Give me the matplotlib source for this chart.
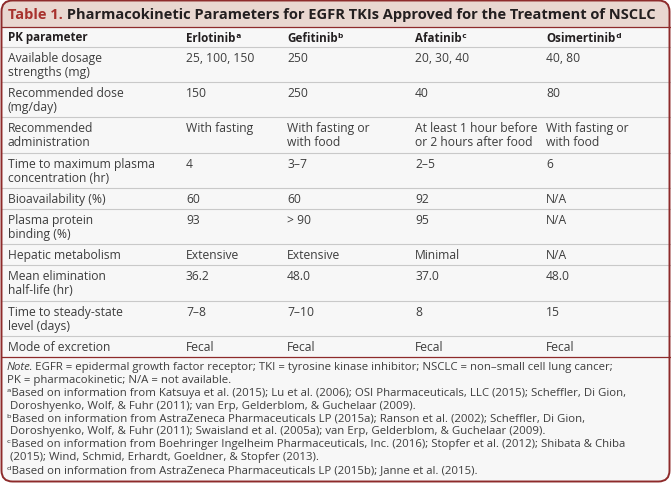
import matplotlib
matplotlib.use("Agg")
import matplotlib.pyplot as plt
from matplotlib.patches import FancyBboxPatch, Rectangle
from matplotlib.lines import Line2D

# ---- table content ----
title_prefix = "Table 1."
title_rest = " Pharmacokinetic Parameters for EGFR TKIs Approved for the Treatment of NSCLC"

header = ["PK parameter", "Erlotinib", "Gefitinib", "Afatinib", "Osimertinib"]
header_sup = ["", "ᵃ", "ᵇ", "ᶜ", "ᵈ"]

parameters = [
    ["Available dosage", "strengths (mg)"],
    ["Recommended dose", "(mg/day)"],
    ["Recommended", "administration"],
    ["Time to maximum plasma", "concentration (hr)"],
    ["Bioavailability (%)"],
    ["Plasma protein", "binding (%)"],
    ["Hepatic metabolism"],
    ["Mean elimination", "half-life (hr)"],
    ["Time to steady-state", "level (days)"],
    ["Mode of excretion"],
]
erlotinib = [["25, 100, 150"], ["150"], ["With fasting"], ["4"], ["60"], ["93"],
             ["Extensive"], ["36.2"], ["7–8"], ["Fecal"]]
gefitinib = [["250"], ["250"], ["With fasting or", "with food"], ["3–7"], ["60"], ["> 90"],
             ["Extensive"], ["48.0"], ["7–10"], ["Fecal"]]
afatinib = [["20, 30, 40"], ["40"], ["At least 1 hour before", "or 2 hours after food"], ["2–5"],
            ["92"], ["95"], ["Minimal"], ["37.0"], ["8"], ["Fecal"]]
osimertinib = [["40, 80"], ["80"], ["With fasting or", "with food"], ["6"], ["N/A"], ["N/A"],
               ["N/A"], ["48.0"], ["15"], ["Fecal"]]

notes = [
    [("Note", "italic"), (". EGFR = epidermal growth factor receptor; TKI = tyrosine kinase inhibitor; "
                          "NSCLC = non–small cell lung cancer;", "normal")],
    [("PK = pharmacokinetic; N/A = not available.", "normal")],
    [("ᵃBased on information from Katsuya et al. (2015); Lu et al. (2006); OSI Pharmaceuticals, LLC (2015); "
      "Scheffler, Di Gion,", "normal")],
    [(" Doroshyenko, Wolf, & Fuhr (2011); van Erp, Gelderblom, & Guchelaar (2009).", "normal")],
    [("ᵇBased on information from AstraZeneca Pharmaceuticals LP (2015a); Ranson et al. (2002); "
      "Scheffler, Di Gion,", "normal")],
    [(" Doroshyenko, Wolf, & Fuhr (2011); Swaisland et al. (2005a); van Erp, Gelderblom, & Guchelaar (2009).",
      "normal")],
    [("ᶜBased on information from Boehringer Ingelheim Pharmaceuticals, Inc. (2016); Stopfer et al. (2012); "
      "Shibata & Chiba", "normal")],
    [(" (2015); Wind, Schmid, Erhardt, Goeldner, & Stopfer (2013).", "normal")],
    [("ᵈBased on information from AstraZeneca Pharmaceuticals LP (2015b); Janne et al. (2015).", "normal")],
]

# ---- style ----
W, H = 671, 485
FONT = ["Open Sans", "DejaVu Sans"]
BORDER = "#8e2b2b"
TITLE_BG = "#e9d7d0"
BODY_BG = "#f7f7f7"
RED = "#a8322e"
TXT = "#3d3d3d"
DARK = "#231f20"
GRID = "#c9c9c9"

plt.rcParams["font.family"] = FONT
fig = plt.figure(figsize=(W / 100, H / 100), dpi=100)
ax = fig.add_axes([0, 0, 1, 1])
ax.set_xlim(0, W)
ax.set_ylim(H, 0)
ax.axis("off")

# frame
ax.add_patch(FancyBboxPatch((1.5, 1.5), W - 3, H - 4, boxstyle="round,pad=0,rounding_size=11",
                            fc=BODY_BG, ec="none", zorder=0))
ax.add_patch(FancyBboxPatch((1.5, 1.5), W - 3, 40, boxstyle="round,pad=0,rounding_size=11",
                            fc=TITLE_BG, ec="none", zorder=1))
ax.add_patch(Rectangle((1.5, 14), W - 3, 14, fc=TITLE_BG, ec="none", zorder=1))
ax.add_patch(Rectangle((1.5, 28), W - 3, 20, fc=BODY_BG, ec="none", zorder=1))
ax.add_patch(FancyBboxPatch((1.5, 1.5), W - 3, H - 4, boxstyle="round,pad=0,rounding_size=11",
                            fc="none", ec=BORDER, lw=1.4, zorder=5))
ax.add_line(Line2D([1.5, W - 1.5], [28, 28], color=BORDER, lw=0.9, zorder=4))

fig.canvas.draw()
renderer = fig.canvas.get_renderer()


def runs(x, y, parts, size, color):
    # draw pieces of text one after another on a line
    for s, style, weight, col in parts:
        t = ax.text(x, y, s, fontsize=size, fontstyle=style, fontweight=weight,
                    color=col or color, va="center", ha="left", zorder=6)
        bb = t.get_window_extent(renderer)
        x += bb.width
        if style == "italic":
            x -= 2  # italic box has extra slant room


# title
runs(8, 15, [(title_prefix, "normal", "bold", RED), (title_rest, "normal", "bold", DARK)], 10.5, DARK)

# header
col_x = [8, 186, 287, 415, 546]
for cx, h, s in zip(col_x, header, header_sup):
    runs(cx, 38, [(h, "normal", "bold", DARK), (s, "normal", "bold", DARK)], 8.4, DARK)
ax.add_line(Line2D([1.5, W - 1.5], [48, 48], color=GRID, lw=0.8, zorder=4))

# body
two_h, one_h, step = 35.2, 21.2, 14
top = 48
columns = [parameters, erlotinib, gefitinib, afatinib, osimertinib]
for i in range(len(parameters)):
    nlines = max(len(c[i]) for c in columns)
    rh = two_h if nlines == 2 else one_h
    for cx, col in zip(col_x, columns):
        for j, line in enumerate(col[i]):
            ax.text(cx, top + 10.5 + j * step, line, fontsize=8.7, color=TXT,
                    va="center", ha="left", zorder=6)
    top += rh
    if i < len(parameters) - 1:
        ax.add_line(Line2D([1.5, W - 1.5], [top, top], color=GRID, lw=0.8, zorder=4))

ax.add_line(Line2D([1.5, W - 1.5], [top, top], color=BORDER, lw=0.9, zorder=4))

# notes
ny = top + 10
for parts in notes:
    runs(7, ny, [(s, st, "normal", None) for s, st in parts], 8.2, TXT)
    ny += 12.8

fig.savefig("out.png", dpi=100, facecolor="white")
